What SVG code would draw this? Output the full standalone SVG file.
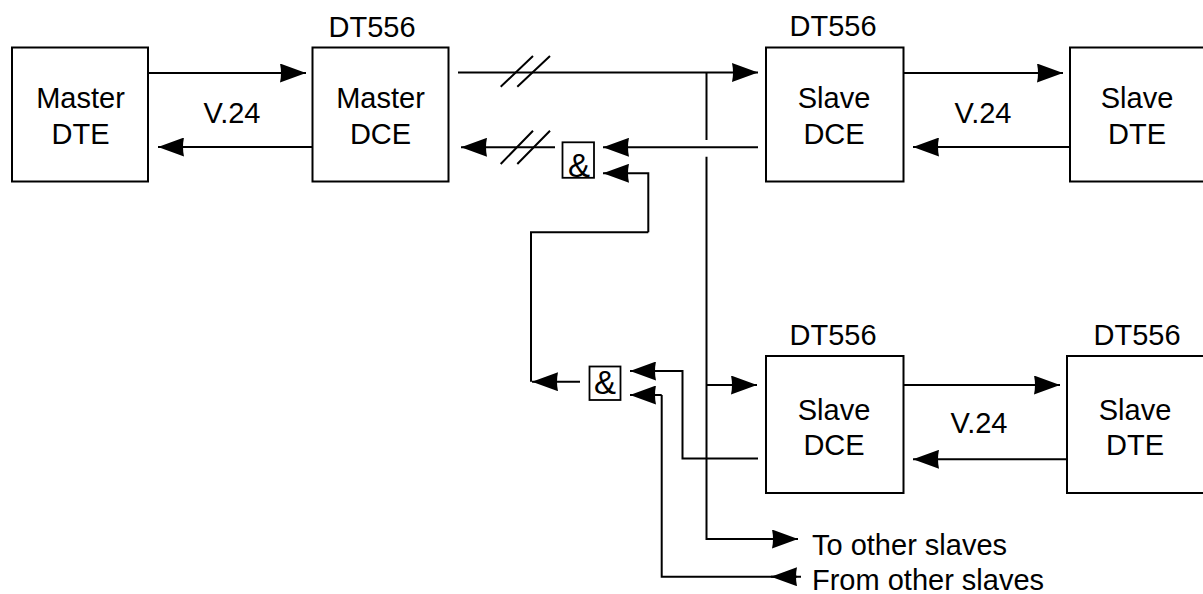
<svg xmlns="http://www.w3.org/2000/svg" width="1203" height="594" viewBox="0 0 1203 594">
<style>
.box{fill:#fff;stroke:#000;stroke-width:2}
.gate{fill:#fff;stroke:#000;stroke-width:1.8}
.t{font-family:"Liberation Sans",Arial,sans-serif;font-size:29px;fill:#000;text-anchor:middle}
.amp{font-family:"Liberation Sans",Arial,sans-serif;font-size:33px;fill:#000;text-anchor:middle}
.l{font-family:"Liberation Sans",Arial,sans-serif;font-size:29px;fill:#000}
.c{fill:none;stroke:#000;stroke-width:2}
</style>
<defs>
<marker id="ah" viewBox="0 0 26 19" refX="26" refY="9.5" markerWidth="26" markerHeight="19" markerUnits="userSpaceOnUse" orient="auto">
<path d="M0,0 L26,9.5 L0,19 Q2,9.5 0,0 z" fill="#000"/>
</marker>
</defs>
<rect width="1203" height="594" fill="#fff"/>
<g id="master-dte">
<rect class="box" x="12" y="47.5" width="136" height="134"/>
<text class="t" x="80.5" y="108">Master</text>
<text class="t" x="80.5" y="144">DTE</text>
</g>
<g id="master-dce">
<text class="t" x="372" y="37">DT556</text>
<rect class="box" x="312.5" y="47.5" width="136" height="134"/>
<text class="t" x="380.5" y="108">Master</text>
<text class="t" x="380.5" y="144">DCE</text>
</g>
<g id="slave-dce-1">
<text class="t" x="833" y="36">DT556</text>
<rect class="box" x="766" y="47.5" width="137.5" height="134"/>
<text class="t" x="834" y="108">Slave</text>
<text class="t" x="834" y="144">DCE</text>
</g>
<g id="slave-dte-1">
<rect class="box" x="1070" y="47.5" width="137" height="134"/>
<text class="t" x="1137" y="108">Slave</text>
<text class="t" x="1137" y="144">DTE</text>
</g>
<g id="slave-dce-2">
<text class="t" x="833" y="345">DT556</text>
<rect class="box" x="766" y="356" width="137.5" height="137"/>
<text class="t" x="834" y="420">Slave</text>
<text class="t" x="834" y="455">DCE</text>
</g>
<g id="slave-dte-2">
<text class="t" x="1137" y="345">DT556</text>
<rect class="box" x="1067" y="356" width="140" height="137"/>
<text class="t" x="1135" y="420">Slave</text>
<text class="t" x="1135" y="455">DTE</text>
</g>
<g id="and-1">
<rect class="gate" x="562.5" y="142.3" width="31.5" height="35.5"/>
<text class="amp" x="579" y="176.5">&amp;</text>
</g>
<g id="and-2">
<rect class="gate" x="589.5" y="366.5" width="31" height="33.5"/>
<text class="amp" x="605" y="393.5">&amp;</text>
</g>
<g id="labels">
<text class="t" x="232" y="123">V.24</text>
<text class="t" x="983" y="123">V.24</text>
<text class="t" x="979" y="433">V.24</text>
<text class="l" x="812" y="555">To other slaves</text>
<text class="l" x="812" y="590">From other slaves</text>
</g>
<g id="connectors">
<path class="c" d="M148,73 H306" marker-end="url(#ah)"/>
<path class="c" d="M312,147 H158" marker-end="url(#ah)"/>
<path class="c" d="M458,72.5 H758" marker-end="url(#ah)"/>
<path class="c" d="M500.7,86.7 L533,56 M517.3,86.7 L550,56"/>
<path class="c" d="M758,147.3 H603" marker-end="url(#ah)"/>
<path class="c" d="M555,147.3 H461" marker-end="url(#ah)"/>
<path class="c" d="M500.7,164 L533,130.7 M517.3,164 L550,130.7"/>
<path class="c" d="M904,73 H1063" marker-end="url(#ah)"/>
<path class="c" d="M1070,147 H913" marker-end="url(#ah)"/>
<path class="c" d="M706.5,72.5 V140"/>
<path class="c" d="M706.5,156.7 V539 H798" marker-end="url(#ah)"/>
<path class="c" d="M706.5,385 H757" marker-end="url(#ah)"/>
<path class="c" d="M648.3,232.3 V173.3 H603" marker-end="url(#ah)"/>
<path class="c" d="M531,381.7 V232.3 H648.3"/>
<path class="c" d="M580,381.7 H532" marker-end="url(#ah)"/>
<path class="c" d="M904,385 H1060" marker-end="url(#ah)"/>
<path class="c" d="M1067,459.3 H913" marker-end="url(#ah)"/>
<path class="c" d="M758,458.5 H682.5 V371 H630" marker-end="url(#ah)"/>
<path class="c" d="M661.7,395 V576.7 H801"/>
<path class="c" d="M661.7,395 H630" marker-end="url(#ah)"/>
<path class="c" d="M797,576.7 H771" marker-end="url(#ah)"/>
</g>
</svg>
